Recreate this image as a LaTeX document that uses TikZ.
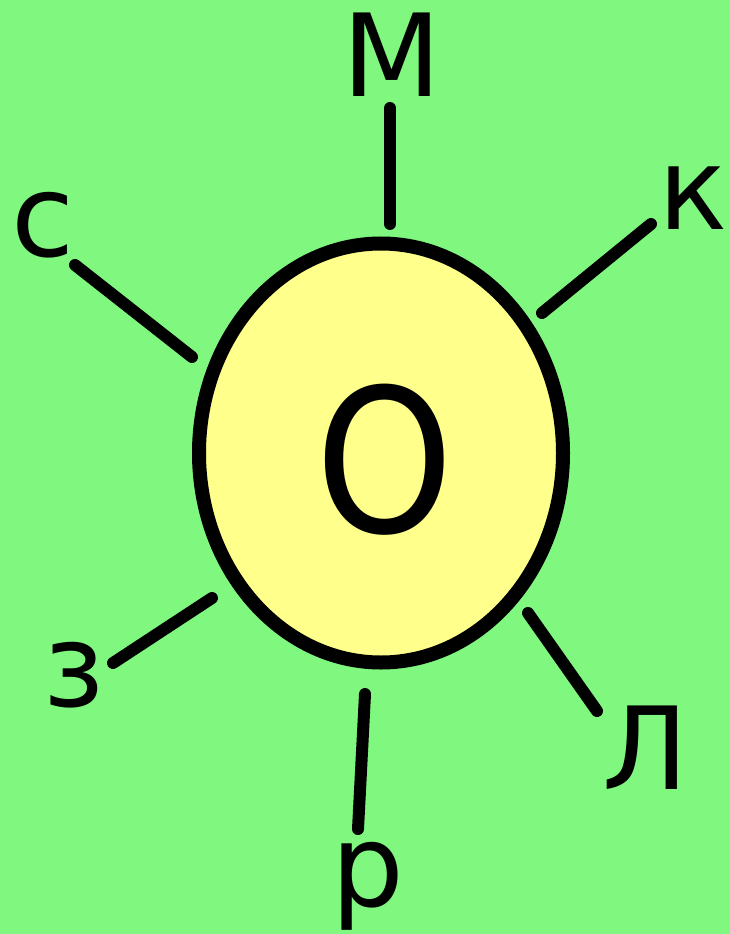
\documentclass[tikz,border=0pt]{standalone}
\usepackage{fontspec}
\setmainfont{DejaVu Sans}
\usepackage{xcolor}
\usetikzlibrary{shapes.geometric}

\definecolor{bggreen}{RGB}{128,248,128}
\definecolor{coreyellow}{RGB}{255,255,140}

\begin{document}
\begin{tikzpicture}[
  x=0.75pt, y=-0.75pt,
  letter/.style={inner sep=0pt, font=\fontsize{86}{86}\selectfont},
  core/.style={
    ellipse,
    draw=black,
    fill=coreyellow,
    line width=10.5pt,
    minimum width=364*0.75pt,
    minimum height=419*0.75pt,
    inner sep=0pt
  },
  spoke/.style={line width=9pt, line cap=round}
]

% background and page size
\fill[bggreen] (0,0) rectangle (730,934);
\useasboundingbox (0,0) rectangle (730,934);

% centre
\node[core] (ring) at (381,453) {};
\node[inner sep=0pt, font=\fontsize{150}{150}\selectfont] (o) at (385,460) {\scalebox{0.88}[1]{О}};

% letters round it
\node[letter] (m) at (392,55) {М};
\node[letter] (k) at (693,198) {к};
\node[letter] (s) at (43,225) {с};
\node[letter] (z) at (74,675) {з};
\node[letter] (r) at (368,886) {р};
\node[letter] (l) at (646,748) {Л};

% spoke ends
\coordinate (mIn) at (390,224);  \coordinate (mOut) at (390,108);
\coordinate (kIn) at (542,313);  \coordinate (kOut) at (651,224);
\coordinate (sIn) at (192,357);  \coordinate (sOut) at (75,265);
\coordinate (zIn) at (212,598);  \coordinate (zOut) at (113,663);
\coordinate (rIn) at (365,694);  \coordinate (rOut) at (358,829);
\coordinate (lIn) at (528,613);  \coordinate (lOut) at (597,711);

% spokes
\draw[spoke] (mIn) -- (mOut);
\draw[spoke] (kIn) -- (kOut);
\draw[spoke] (sIn) -- (sOut);
\draw[spoke] (zIn) -- (zOut);
\draw[spoke] (rIn) -- (rOut);
\draw[spoke] (lIn) -- (lOut);

\end{tikzpicture}
\end{document}
